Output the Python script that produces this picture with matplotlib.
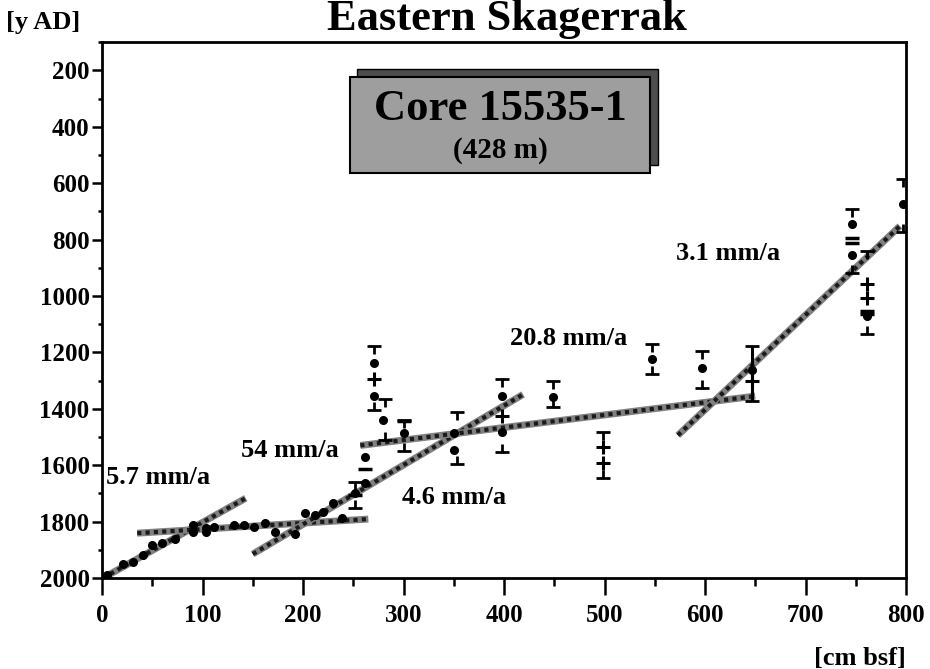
import matplotlib
matplotlib.use('Agg')
import matplotlib.pyplot as plt
from matplotlib.path import Path
from matplotlib.patches import Rectangle

plt.rcParams['font.family'] = ['Liberation Serif', 'DejaVu Serif']
plt.rcParams['font.weight'] = 'bold'

# dated samples (depth cm, age y AD)
dot_x = [5, 21, 31, 41, 50, 60, 73, 91, 91, 103, 103, 111, 131, 141, 151, 162, 172,
         192, 202, 212, 220, 230, 239, 252, 262, 262,
         271, 271, 280, 300, 350, 350, 398, 398, 449, 547, 597, 647,
         746, 746, 761, 797]
dot_y = [1990, 1950, 1943, 1919, 1883, 1876, 1862, 1813, 1837, 1823, 1837, 1820, 1813,
         1813, 1820, 1806, 1837, 1844, 1770, 1777, 1767, 1735, 1788, 1700, 1664, 1572,
         1236, 1353, 1438, 1487, 1487, 1545, 1353, 1484, 1357, 1222, 1257, 1264,
         745, 854, 1070, 674]

# error bar caps
cap_x = [252, 271, 282, 300, 353, 398, 449, 498, 547, 597, 647, 746, 761, 797]
cap_top = [1660, 1176, 1364, 1438, 1413, 1293, 1303, 1484, 1169, 1194, 1176, 692, 840, 586]
cap_bot = [1752, 1406, 1512, 1550, 1597, 1554, 1395, 1646, 1275, 1325, 1371, 918, 1134, 773]

# calibrated age marks
plus_x = [271, 398, 498, 498, 647, 761, 761]
plus_y = [1293, 1424, 1537, 1593, 1300, 957, 1006]
dash_x = [252, 262, 300, 746, 746, 761, 761]
dash_y = [1706, 1614, 1442, 794, 812, 1052, 1063]

# sedimentation rate segments
seg_x0 = [1, 35, 150, 257, 573]
seg_y0 = [2000, 1841, 1915, 1530, 1494]
seg_x1 = [143, 265, 419, 650, 794]
seg_y1 = [1717, 1791, 1349, 1355, 752]

rate_labels = ['5.7 mm/a', '54 mm/a', '4.6 mm/a', '20.8 mm/a', '3.1 mm/a']
label_x = [4, 138, 298, 406, 571]
label_y = [1643, 1547, 1714, 1151, 851]

fig = plt.figure(figsize=(9.3, 6.69), dpi=100)
ax = fig.add_axes([0.1097, 0.136, 0.8645, 0.801])

for x0, y0, x1, y1 in zip(seg_x0, seg_y0, seg_x1, seg_y1):
    ax.plot([x0, x1], [y0, y1], color='0.5', lw=5, solid_capstyle='butt', zorder=2)
    ax.plot([x0, x1], [y0, y1], color='0.1', lw=3, ls=(0, (1, 1)), zorder=2)

top_marker = Path([(-1, 0), (1, 0), (0, 0), (0, -1.1)],
                  [Path.MOVETO, Path.LINETO, Path.MOVETO, Path.LINETO])
bot_marker = Path([(-1, 0), (1, 0), (0, 0), (0, 1.1)],
                  [Path.MOVETO, Path.LINETO, Path.MOVETO, Path.LINETO])
ax.plot(cap_x, cap_top, ls='none', marker=top_marker, ms=11, mew=2, color='black', zorder=3)
ax.plot(cap_x, cap_bot, ls='none', marker=bot_marker, ms=11, mew=2, color='black', zorder=3)
ax.vlines([cap_x[10]], [cap_top[10]], [cap_bot[10]], color='black', lw=2.2, zorder=3)

ax.plot(plus_x, plus_y, ls='none', marker='+', ms=10, mew=2.2, color='black', zorder=3)
ax.plot(dash_x, dash_y, ls='none', marker='_', ms=10, mew=2.5, color='black', zorder=3)
ax.plot(dot_x, dot_y, ls='none', marker='o', ms=5.5, color='black', zorder=4)

for txt, lx, ly in zip(rate_labels, label_x, label_y):
    ax.text(lx, ly, txt, fontsize=19, fontweight='bold', ha='left', va='center')

ax.set_xlim(0, 800)
ax.set_ylim(2000, 100)
ax.set_xticks(range(0, 801, 100))
ax.set_xticks(range(50, 800, 100), minor=True)
ax.set_yticks(range(200, 2001, 200))
ax.set_yticks(range(100, 2000, 200), minor=True)
ax.tick_params(axis='both', which='both', direction='out', width=1.8, labelsize=18)
ax.tick_params(axis='x', which='major', length=12, pad=7)
ax.tick_params(axis='x', which='minor', length=6)
ax.tick_params(axis='y', which='major', length=7, pad=2)
ax.tick_params(axis='y', which='minor', length=3)
for lab in ax.get_xticklabels() + ax.get_yticklabels():
    lab.set_fontweight('bold')
for sp in ax.spines.values():
    sp.set_linewidth(2)

# core label box with shadow
ax.add_patch(Rectangle((0.317, 0.771), 0.374, 0.179, transform=ax.transAxes,
                       facecolor='0.3', edgecolor='black', lw=1, zorder=5))
ax.add_patch(Rectangle((0.308, 0.756), 0.374, 0.179, transform=ax.transAxes,
                       facecolor='0.62', edgecolor='black', lw=1.5, zorder=6))
ax.text(0.495, 0.875, 'Core 15535-1', transform=ax.transAxes, fontsize=32,
        fontweight='bold', ha='center', va='center', zorder=7)
ax.text(0.495, 0.797, '(428 m)', transform=ax.transAxes, fontsize=21,
        fontweight='bold', ha='center', va='center', zorder=7)

fig.text(0.545, 0.955, 'Eastern Skagerrak', fontsize=32, fontweight='bold',
         ha='center', va='baseline')
fig.text(0.006, 0.967, '[y AD]', fontsize=19, fontweight='bold', ha='left', va='center')
fig.text(0.974, 0.016, '[cm bsf]', fontsize=19, fontweight='bold', ha='right', va='center')

fig.savefig('out.png', dpi=100)
